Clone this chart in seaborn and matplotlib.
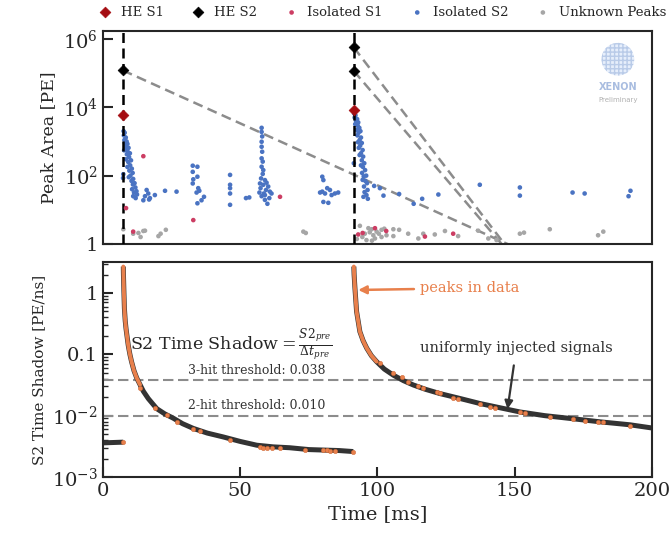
import matplotlib
matplotlib.use("Agg")
import matplotlib.pyplot as plt
import seaborn as sns
from matplotlib.patches import Circle
from matplotlib.ticker import LogLocator, NullFormatter, NullLocator

# ---------------- data ----------------
# event times [ms]
event_times = [7.2, 91.4]

# HE S1 / HE S2 peaks [ms, PE]
he_s1_t = [7.2, 91.4]
he_s1_a = [5900, 8300]
he_s2_t = [7.2, 91.4, 91.4]
he_s2_a = [1.2e5, 5.6e5, 1.15e5]

# dashed gray projection lines: start (time, area) -> end (time, area)
proj_t0 = [7.2, 91.4, 91.4]
proj_a0 = [1.2e5, 5.6e5, 1.15e5]
proj_t1 = [148.0, 146.5, 145.5]
proj_a1 = [0.95, 0.95, 0.95]

# Isolated S2 peaks
iso_s2_t = [7.5, 7.9, 7.6, 8.3, 7.8, 8.6, 8.0, 8.9, 8.2, 9.3, 8.5, 7.7, 9.0, 9.8, 8.7, 9.5, 8.4,
            10.2, 9.2, 9.9, 8.9, 10.5, 9.6, 10.8, 10.0, 9.4, 11.0, 10.4, 11.5, 10.9, 11.8, 10.6,
            12.2, 11.3, 12.4, 11.0, 11.9, 7.4, 7.3,
            14.7, 15.9, 16.5, 17.1, 18.9, 22.6, 26.8, 15.3, 16.8,
            32.7, 34.4, 32.7, 34.4, 32.9, 32.7, 34.7, 35.1, 34.1, 36.8, 35.9, 34.4,
            46.3, 46.3, 46.3, 46.3, 46.3, 52.1, 53.3,
            57.8, 57.8, 58.0, 57.8, 57.8, 58.0, 57.8, 58.2, 57.8, 58.4, 58.2, 57.6, 59.0, 57.2, 59.6,
            58.4, 60.2, 57.4, 59.4, 60.8, 57.0, 58.6, 61.4, 57.8, 59.0, 60.6, 59.0, 59.9,
            79.9, 80.3, 81.7, 79.9, 80.9, 82.7, 84.5, 85.7, 80.3, 82.1, 83.3, 79.1,
            91.5, 92.0, 91.7, 92.6, 92.2, 93.0, 91.9, 92.8, 93.4, 92.4, 93.8, 93.1, 92.7, 94.0,
            93.5, 92.9, 94.3, 93.7, 93.2, 94.6, 94.0, 93.5, 94.8, 94.3, 95.2, 94.0, 94.7, 95.5,
            94.4, 95.9, 95.0, 94.6, 95.6, 96.2, 95.1, 96.4, 95.3, 96.0, 94.9, 96.5, 91.4,
            98.8, 100.9, 102.2, 107.9, 113.2, 116.3, 122.2, 137.3, 151.9, 151.9, 171.1, 175.5,
            191.5, 192.2]
iso_s2_a = [2000, 1800, 1500, 1300, 1100, 1000, 900, 850, 700, 650, 600, 550, 500, 450, 420, 350,
            300, 280, 250, 200, 180, 160, 140, 120, 100, 90, 80, 70, 60, 55, 45, 40,
            35, 32, 28, 25, 22, 110, 85,
            19, 38, 30, 22, 27, 36, 34, 25, 20,
            195, 182, 129, 93, 78, 59, 43, 36, 32, 24, 19, 15.5,
            105, 54, 43, 30, 14,
            22, 23,
            2500, 1900, 1400, 980, 700, 500, 320, 257, 182, 145, 112, 83, 74, 59, 62,
            54, 48, 43, 38, 34, 32, 30, 30, 25, 27, 22, 19.5, 15,
            93, 74, 43, 34, 30, 38, 30, 32, 17, 16, 27, 32,
            6600, 5800, 5000, 4500, 4000, 3600, 3200, 2900, 2500, 2200, 2000, 1800, 1500, 1300,
            1100, 950, 900, 750, 650, 560, 450, 400, 360, 280, 230, 200, 180, 145,
            120, 100, 95, 75, 70, 60, 48, 38, 33, 27, 24, 21, 230,
            50, 43, 26, 29, 15, 21, 28, 54, 45, 26, 32, 30,
            25, 36]

# Isolated S1 peaks
iso_s1_t = [8.4, 11.0, 14.7, 32.9, 64.5, 93.0, 94.6, 99.1, 103.2, 117.3, 127.6]
iso_s1_a = [11.2, 2.3, 370, 5.0, 24, 1.9, 2.1, 2.9, 2.4, 1.65, 2.0]

# Unknown peaks
unk_t = [7.4, 11.0, 12.9, 13.7, 14.7, 15.3, 20.2, 21.0, 22.9, 73.0, 73.9,
         92.5, 93.6, 94.5, 95.4, 96.0, 96.7, 97.2, 97.9, 98.0, 98.5, 99.1, 99.7, 100.5, 101.5,
         101.5, 102.5, 103.3, 105.8, 105.8, 107.9, 111.2, 114.9, 116.7, 120.9, 124.6, 129.4,
         136.7, 140.4, 143.4, 151.9, 153.4, 162.8, 180.4, 182.3]
unk_a = [2.7, 2.0, 2.1, 1.6, 2.4, 2.45, 1.7, 2.0, 2.6, 2.3, 2.1,
         1.4, 3.4, 1.6, 2.0, 1.3, 2.9, 2.2, 2.7, 1.25, 1.8, 1.45, 2.3, 2.0, 2.6,
         1.6, 2.8, 1.8, 2.7, 1.7, 2.6, 2.0, 1.45, 2.0, 1.9, 2.4, 1.7,
         2.45, 1.45, 1.3, 2.0, 2.15, 2.7, 1.8, 2.3]

# S2 time shadow: uniformly injected signals (dark curves)
inj0_t = [0.0, 7.4]
inj0_v = [0.0036, 0.0037]
inj1_t = [7.4, 7.45, 7.6, 7.8, 8.1, 8.4, 8.8, 9.2, 9.8, 10.4, 11.3, 12.3, 13.5, 14.7, 16.5,
          19.6, 22.5, 25.6, 29.0, 32.9, 38.0, 43.8, 50.0, 56.0, 62.0, 68.0, 75.0, 80.3, 86.0, 91.2]
inj1_v = [2.7, 2.0, 1.12, 0.56, 0.35, 0.26, 0.19, 0.14, 0.10, 0.076, 0.054, 0.041, 0.032, 0.025,
          0.019, 0.013, 0.0107, 0.0091, 0.0074, 0.0062, 0.0052, 0.0045, 0.0038, 0.0033, 0.0031,
          0.0030, 0.0028, 0.00275, 0.0027, 0.0026]
inj2_t = [91.4, 91.5, 91.8, 92.4, 93.6, 94.8, 96.1, 97.8, 99.7, 102.5, 105.8, 109.5, 113.1, 117.5,
          122.8, 130.0, 137.3, 144.5, 151.9, 161.0, 171.3, 181.5, 192.0, 200.0]
inj2_v = [2.7, 2.0, 1.2, 0.50, 0.234, 0.166, 0.126, 0.095, 0.076, 0.0575, 0.0457, 0.0372, 0.0316,
          0.0269, 0.0229, 0.0191, 0.0158, 0.0135, 0.0115, 0.0100, 0.0089, 0.0079, 0.0071, 0.0063]

# peaks in data (orange): dense steep parts and individual points
pk1_t = [7.4, 7.45, 7.6, 7.8, 8.1, 8.4, 8.8, 9.2, 9.8, 10.4, 11.3, 12.3, 13.5]
pk1_v = [2.7, 2.0, 1.12, 0.56, 0.35, 0.26, 0.19, 0.14, 0.10, 0.076, 0.054, 0.041, 0.032]
pk2_t = [91.4, 91.5, 91.8, 92.4, 93.6, 94.8, 96.1, 97.8, 99.7]
pk2_v = [2.7, 2.0, 1.2, 0.50, 0.234, 0.166, 0.126, 0.095, 0.076]
pkd_t = [7.3, 13.5, 18.9, 23.2, 26.8, 32.9, 35.3, 46.3, 57.2, 58.4, 59.6, 61.5, 64.5, 73.5, 80.3,
         81.5, 82.7, 84.5, 91.2,
         100.9, 105.8, 108.8, 111.2, 114.9, 116.7, 121.6, 122.8, 127.6, 129.5, 137.3, 141.0, 142.8,
         151.9, 153.7, 162.8, 171.3, 175.6, 180.4, 182.3, 192.0]
pkd_v = [0.0037, 0.028, 0.0132, 0.0102, 0.0079, 0.0060, 0.0056, 0.0040, 0.0031, 0.0030, 0.0030,
         0.0030, 0.0030, 0.0028, 0.00275, 0.00275, 0.0027, 0.0027, 0.0026,
         0.071, 0.049, 0.042, 0.035, 0.030, 0.028, 0.0245, 0.0234, 0.0195, 0.0186, 0.0155, 0.0141,
         0.0135, 0.0115, 0.0112, 0.0095, 0.0089, 0.0083, 0.0079, 0.0078, 0.0069]

thresholds = [0.038, 0.010]
threshold_labels = ["3-hit threshold: 0.038", "2-hit threshold: 0.010"]

top_yticks = [1, 1e2, 1e4, 1e6]
top_yticklabels = ["1", "$10^2$", "$10^4$", "$10^6$"]
bot_yticks = [1e-3, 1e-2, 0.1, 1]
bot_yticklabels = ["$10^{-3}$", "$10^{-2}$", "0.1", "1"]
xticks = [0, 50, 100, 150, 200]

# ---------------- style ----------------
sns.set_style("ticks")
plt.rcParams["font.family"] = ["DejaVu Serif"]
plt.rcParams["mathtext.fontset"] = "dejavuserif"

C_HES1 = "#a50d12"
C_HES2 = "#000000"
C_ISO1 = "#cc3d63"
C_ISO2 = "#4a73c2"
C_UNK = "#a6a6a6"
C_PROJ = "#8c8c8c"
C_DARK = "#333333"
C_ORNG = "#e8804c"

fig = plt.figure(figsize=(6.71, 5.41), dpi=100)
ax1 = fig.add_axes([0.1535, 0.549, 0.818, 0.3937])
ax2 = fig.add_axes([0.1535, 0.1183, 0.818, 0.3974], sharex=ax1)

# ---------------- top panel ----------------
ax1.set_yscale("log")
ax1.set_ylim(1, 1.7e6)
ax1.set_xlim(0, 200)

for t in event_times:
    ax1.axvline(t, color="black", lw=1.8, ls=(0, (4, 2.2)), zorder=4)

for i in range(len(proj_t0)):
    sns.lineplot(x=[proj_t0[i], proj_t1[i]], y=[proj_a0[i], proj_a1[i]], ax=ax1,
                 color=C_PROJ, lw=1.8, ls=(0, (4, 2.2)), zorder=2, sort=False,
                 estimator=None)

sns.scatterplot(x=he_s1_t, y=he_s1_a, ax=ax1, marker="D", s=30, color=C_HES1,
                edgecolor=C_HES1, linewidth=0.5, zorder=6, label="HE S1")
sns.scatterplot(x=he_s2_t, y=he_s2_a, ax=ax1, marker="D", s=30, color=C_HES2,
                edgecolor=C_HES2, linewidth=0.5, zorder=6, label="HE S2")
sns.scatterplot(x=iso_s1_t, y=iso_s1_a, ax=ax1, s=11, color=C_ISO1, edgecolor="none",
                zorder=5, label="Isolated S1")
sns.scatterplot(x=iso_s2_t, y=iso_s2_a, ax=ax1, s=11, color=C_ISO2, edgecolor="none",
                zorder=3, label="Isolated S2")
sns.scatterplot(x=unk_t, y=unk_a, ax=ax1, s=11, color=C_UNK, edgecolor="none",
                zorder=3, label="Unknown Peaks")

handles, labels = ax1.get_legend_handles_labels()
if ax1.get_legend() is not None:
    ax1.get_legend().remove()
fig.legend(handles, labels, loc="center", bbox_to_anchor=(0.565, 0.977), ncol=5,
           frameon=False, fontsize=9.5, handletextpad=0.2, columnspacing=1.6,
           markerscale=1.0)

ax1.set_yticks(top_yticks)
ax1.set_yticklabels(top_yticklabels)
ax1.yaxis.set_minor_locator(NullLocator())
ax1.tick_params(axis="y", direction="in", length=7, width=1.5, labelsize=14)
ax1.tick_params(axis="x", bottom=False, labelbottom=False)
ax1.set_ylabel("Peak Area [PE]", fontsize=12.5)
for sp in ax1.spines.values():
    sp.set_linewidth(1.5)

# XENON logo (approximation)
ins = ax1.inset_axes([0.907, 0.785, 0.062, 0.165])
ins.add_patch(Circle((0.5, 0.5), 0.48, facecolor="#e6eefb", edgecolor="#b9cbe8",
                     hatch="++++", lw=0.0))
ins.set_xlim(0, 1)
ins.set_ylim(0, 1)
ins.set_aspect("equal")
ins.axis("off")
ax1.text(0.938, 0.735, "XENON", transform=ax1.transAxes, ha="center", va="center",
         fontsize=7, fontweight="bold", color="#a9bde0", family="DejaVu Sans")
ax1.text(0.938, 0.675, "Preliminary", transform=ax1.transAxes, ha="center",
         va="center", fontsize=5, color="#b0b0b0", family="DejaVu Sans")

# ---------------- bottom panel ----------------
ax2.set_yscale("log")
ax2.set_ylim(1e-3, 3.2)

for th in thresholds:
    ax2.axhline(th, color=C_PROJ, lw=1.5, ls=(0, (5, 2.2)), zorder=1)
ax2.text(56, 0.038 * 1.13, threshold_labels[0], ha="center", va="bottom", fontsize=9,
         color="#333333")
ax2.text(56, 0.010 * 1.13, threshold_labels[1], ha="center", va="bottom", fontsize=9,
         color="#333333")

for tt, vv in [(inj0_t, inj0_v), (inj1_t, inj1_v), (inj2_t, inj2_v)]:
    sns.lineplot(x=tt, y=vv, ax=ax2, color=C_DARK, lw=3.6, sort=False, estimator=None,
                 zorder=2, solid_capstyle="butt")
for tt, vv in [(pk1_t, pk1_v), (pk2_t, pk2_v)]:
    sns.lineplot(x=tt, y=vv, ax=ax2, color=C_ORNG, lw=2.8, sort=False, estimator=None,
                 zorder=3)
sns.scatterplot(x=pkd_t, y=pkd_v, ax=ax2, s=10, color=C_ORNG, edgecolor="#c9622f",
                linewidth=0.3, zorder=4)

ax2.text(46.5, 0.14, r"S2 Time Shadow$=\frac{S2_{pre}}{\Delta t_{pre}}$", ha="center",
         va="center", fontsize=12.5)

ax2.annotate("peaks in data", xy=(93.0, 1.12), xytext=(115.5, 1.2), ha="left",
             va="center", fontsize=10.5, color=C_ORNG,
             arrowprops=dict(arrowstyle="-|>", color=C_ORNG, lw=1.8,
                             mutation_scale=12, shrinkA=2, shrinkB=0))
ax2.text(150.7, 0.128, "uniformly injected signals", ha="center", va="center",
         fontsize=10.5, color="#333333")
ax2.annotate("", xy=(147.4, 0.0128), xytext=(149.7, 0.066),
             arrowprops=dict(arrowstyle="-|>", color="#333333", lw=1.6,
                             mutation_scale=12, shrinkA=0, shrinkB=0))

ax2.set_yticks(bot_yticks)
ax2.set_yticklabels(bot_yticklabels)
ax2.yaxis.set_minor_locator(LogLocator(base=10, subs=tuple(range(2, 10)), numticks=20))
ax2.yaxis.set_minor_formatter(NullFormatter())
ax2.tick_params(axis="y", which="major", direction="in", length=7, width=1.5, labelsize=14)
ax2.tick_params(axis="y", which="minor", direction="in", length=3.5, width=1.0)
ax2.set_xticks(xticks)
ax2.tick_params(axis="x", direction="in", length=7, width=1.5, labelsize=14)
ax2.set_xlim(0, 200)
ax2.set_xlabel("Time [ms]", fontsize=14)
ax2.set_ylabel("S2 Time Shadow [PE/ns]", fontsize=11)
for sp in ax2.spines.values():
    sp.set_linewidth(1.5)
if ax2.get_legend() is not None:
    ax2.get_legend().remove()

fig.savefig("out.png", dpi=100)
